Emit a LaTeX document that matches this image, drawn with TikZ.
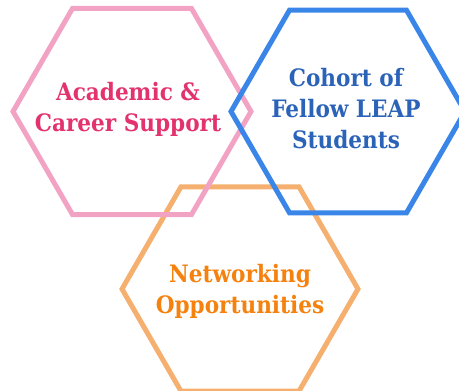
\documentclass[tikz,border=0pt]{standalone}
\usepackage{fontspec}
\newfontfamily\slab{DejaVu Serif Condensed}
\usetikzlibrary{shapes.geometric}
\definecolor{pinkline}{HTML}{F2A3C4}
\definecolor{blueline}{HTML}{3A86E8}
\definecolor{orangeline}{HTML}{F5B070}
\definecolor{pinktext}{HTML}{E2336F}
\definecolor{bluetext}{HTML}{2B63B8}
\definecolor{orangetext}{HTML}{F5820F}
\tikzset{
  hexa/.style={regular polygon, regular polygon sides=6, line width=5pt, inner sep=0pt, outer sep=0pt},
  lbl/.style={align=center, font=\slab\bfseries\fontsize{24}{31}\selectfont, inner sep=0pt}
}
\begin{document}
\begin{tikzpicture}[x=1pt,y=-1pt]
\useasboundingbox (0,0) rectangle (459,391);
\clip (0,0) rectangle (459,391);
\node[hexa, draw=orangeline, minimum size=236pt] (hexorange) at (240,289) {};
\node[hexa, draw=pinkline, minimum size=238pt] (hexpink) at (132,111.5) {};
\node[hexa, draw=blueline, minimum size=234pt] (hexblue) at (348,111.5) {};
\node[lbl, text=pinktext, anchor=base] (tpink) at (128,131) {Academic \&\\Career Support};
\node[lbl, text=bluetext, anchor=base] (tblue) at (346,148) {Cohort of\\Fellow LEAP\\Students};
\node[lbl, text=orangetext, anchor=base] (torange) at (240,313) {Networking\\Opportunities};
\end{tikzpicture}
\end{document}
